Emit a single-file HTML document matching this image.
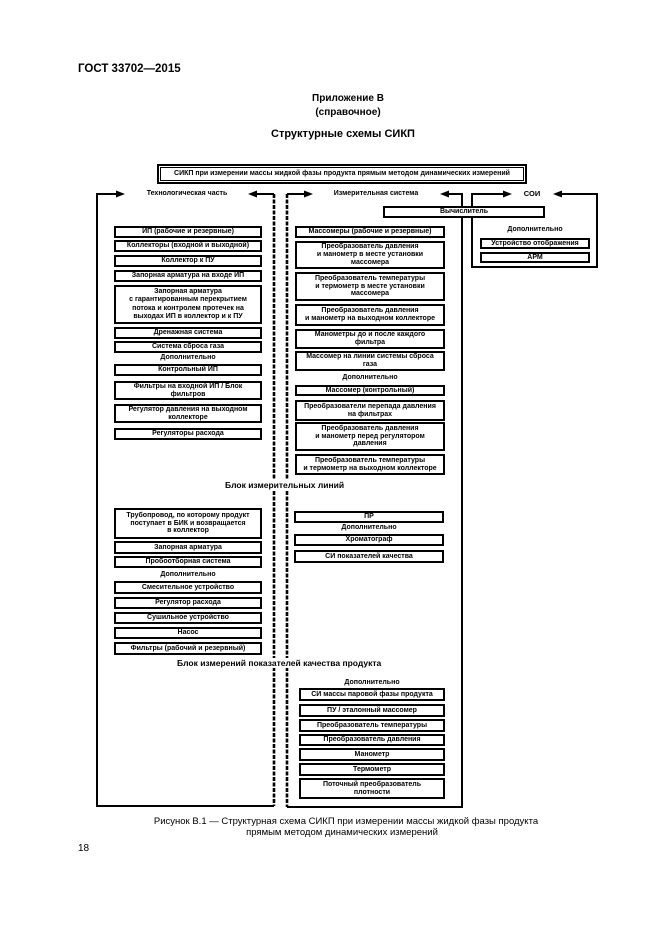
<!DOCTYPE html>
<html><head><meta charset="utf-8">
<style>
html,body{margin:0;padding:0;background:#fff;}
body{width:661px;height:935px;position:relative;overflow:hidden;font-family:"Liberation Sans",Arial,sans-serif;color:#000;}
.t{position:absolute;white-space:nowrap;}
.b{position:absolute;box-sizing:border-box;border:2px solid #000;background:#fff;display:flex;align-items:center;justify-content:center;text-align:center;font-weight:bold;font-size:7px;line-height:7.8px;white-space:nowrap;overflow:hidden;}
.l{position:absolute;font-weight:bold;font-size:7px;line-height:8px;text-align:center;white-space:nowrap;}
.sec{position:absolute;font-weight:bold;font-size:8.5px;line-height:10px;background:#fff;padding:0 1px;white-space:nowrap;}
svg{position:absolute;left:0;top:0;}
</style></head><body>

<div class="t" style="left:78px;top:63px;font-size:11.5px;font-weight:bold;">ГОСТ 33702—2015</div>
<div class="t" style="left:0;width:696px;text-align:center;top:93px;font-size:10px;font-weight:bold;">Приложение В</div>
<div class="t" style="left:0;width:696px;text-align:center;top:107px;font-size:10px;font-weight:bold;">(справочное)</div>
<div class="t" style="left:0;width:686px;text-align:center;top:128px;font-size:11px;font-weight:bold;">Структурные схемы СИКП</div>

<svg width="661" height="935" viewBox="0 0 661 935">
<g stroke="#000" stroke-width="2" fill="none">
  <path d="M118 194 H97 V806 H274"/>
  <path d="M255 194 H274"/>
  <path d="M274 194 V806" stroke-width="2.6" stroke-dasharray="4 1.5"/>
  <path d="M306 194 H287"/>
  <path d="M287 194 V807" stroke-width="2.6" stroke-dasharray="4 1.5"/>
  <path d="M287 807 H462 V194 H447"/>
  <path d="M505 194 H472 V267 H597 V194 H560"/>
</g>
<g fill="#000">
  <polygon points="125,194 116,190.5 116,197.5"/>
  <polygon points="248,194 257,190.5 257,197.5"/>
  <polygon points="313,194 304,190.5 304,197.5"/>
  <polygon points="440,194 449,190.5 449,197.5"/>
  <polygon points="512,194 503,190.5 503,197.5"/>
  <polygon points="553,194 562,190.5 562,197.5"/>
</g>
</svg>

<div class="b" style="left:157px;top:164px;width:370px;height:20px;border-width:2px;box-shadow:inset 0 0 0 1px #fff,inset 0 0 0 2px #000;">СИКП при измерении массы жидкой фазы продукта прямым методом динамических измерений</div>

<div class="l" style="left:130px;width:114px;top:190px;">Технологическая часть</div>
<div class="l" style="left:316px;width:120px;top:190px;">Измерительная система</div>
<div class="l" style="left:514px;width:36px;top:190px;font-size:7.5px;">СОИ</div>

<div class="b" style="left:383px;top:206px;width:162px;height:12px;">Вычислитель</div>

<div class="l" style="left:480px;width:110px;top:226px;">Дополнительно</div>
<div class="b" style="left:480px;top:238px;width:110px;height:11px;">Устройство отображения</div>
<div class="b" style="left:480px;top:252px;width:110px;height:11px;">АРМ</div>

<div class="b" style="left:114px;top:226px;width:148px;height:12px;">ИП (рабочие и резервные)</div>
<div class="b" style="left:114px;top:240px;width:148px;height:12px;">Коллекторы (входной и выходной)</div>
<div class="b" style="left:114px;top:255px;width:148px;height:12px;">Коллектор к ПУ</div>
<div class="b" style="left:114px;top:270px;width:148px;height:12px;">Запорная арматура на входе ИП</div>
<div class="b" style="left:114px;top:285px;width:148px;height:39px;line-height:8.5px;">Запорная арматура<br>с гарантированным перекрытием<br>потока и контролем протечек на<br>выходах ИП в коллектор и к ПУ</div>
<div class="b" style="left:114px;top:327px;width:148px;height:12px;">Дренажная система</div>
<div class="b" style="left:114px;top:341px;width:148px;height:12px;">Система сброса газа</div>
<div class="l" style="left:114px;width:148px;top:354px;">Дополнительно</div>
<div class="b" style="left:114px;top:364px;width:148px;height:12px;">Контрольный ИП</div>
<div class="b" style="left:114px;top:381px;width:148px;height:19px;">Фильтры на входной ИП / Блок<br>фильтров</div>
<div class="b" style="left:114px;top:404px;width:148px;height:19px;">Регулятор давления на выходном<br>коллекторе</div>
<div class="b" style="left:114px;top:428px;width:148px;height:12px;">Регуляторы расхода</div>

<div class="b" style="left:295px;top:226px;width:150px;height:12px;">Массомеры (рабочие и резервные)</div>
<div class="b" style="left:295px;top:241px;width:150px;height:28px;">Преобразователь давления<br>и манометр в месте установки<br>массомера</div>
<div class="b" style="left:295px;top:272px;width:150px;height:29px;">Преобразователь температуры<br>и термометр в месте установки<br>массомера</div>
<div class="b" style="left:295px;top:304px;width:150px;height:22px;">Преобразователь давления<br>и манометр на выходном коллекторе</div>
<div class="b" style="left:295px;top:329px;width:150px;height:20px;">Манометры до и после каждого<br>фильтра</div>
<div class="b" style="left:295px;top:351px;width:150px;height:20px;">Массомер на линии системы сброса<br>газа</div>
<div class="l" style="left:295px;width:150px;top:374px;">Дополнительно</div>
<div class="b" style="left:295px;top:385px;width:150px;height:11px;">Массомер (контрольный)</div>
<div class="b" style="left:295px;top:400px;width:150px;height:21px;">Преобразователи перепада давления<br>на фильтрах</div>
<div class="b" style="left:295px;top:422px;width:150px;height:29px;">Преобразователь давления<br>и манометр перед регулятором<br>давления</div>
<div class="b" style="left:295px;top:454px;width:150px;height:21px;">Преобразователь температуры<br>и термометр на выходном коллекторе</div>

<div class="sec" style="left:224px;top:480px;">Блок измерительных линий</div>

<div class="b" style="left:114px;top:508px;width:148px;height:31px;">Трубопровод, по которому продукт<br>поступает в БИК и возвращается<br>в коллектор</div>
<div class="b" style="left:114px;top:541px;width:148px;height:13px;">Запорная арматура</div>
<div class="b" style="left:114px;top:556px;width:148px;height:12px;">Пробоотборная система</div>
<div class="l" style="left:114px;width:148px;top:571px;">Дополнительно</div>
<div class="b" style="left:114px;top:581px;width:148px;height:13px;">Смесительное устройство</div>
<div class="b" style="left:114px;top:597px;width:148px;height:12px;">Регулятор расхода</div>
<div class="b" style="left:114px;top:612px;width:148px;height:12px;">Сушильное устройство</div>
<div class="b" style="left:114px;top:627px;width:148px;height:12px;">Насос</div>
<div class="b" style="left:114px;top:642px;width:148px;height:13px;">Фильтры (рабочий и резервный)</div>

<div class="b" style="left:294px;top:511px;width:150px;height:12px;">ПР</div>
<div class="l" style="left:294px;width:150px;top:524px;">Дополнительно</div>
<div class="b" style="left:294px;top:534px;width:150px;height:12px;">Хроматограф</div>
<div class="b" style="left:294px;top:550px;width:150px;height:13px;">СИ показателей качества</div>

<div class="sec" style="left:176px;top:658px;">Блок измерений показателей качества продукта</div>

<div class="l" style="left:299px;width:146px;top:679px;">Дополнительно</div>
<div class="b" style="left:299px;top:688px;width:146px;height:13px;">СИ массы паровой фазы продукта</div>
<div class="b" style="left:299px;top:704px;width:146px;height:13px;">ПУ / эталонный массомер</div>
<div class="b" style="left:299px;top:719px;width:146px;height:13px;">Преобразователь температуры</div>
<div class="b" style="left:299px;top:734px;width:146px;height:12px;">Преобразователь давления</div>
<div class="b" style="left:299px;top:748px;width:146px;height:13px;">Манометр</div>
<div class="b" style="left:299px;top:763px;width:146px;height:13px;">Термометр</div>
<div class="b" style="left:299px;top:778px;width:146px;height:21px;">Поточный преобразователь<br>плотности</div>

<div class="t" style="left:0;width:692px;text-align:center;top:816px;font-size:9.5px;">Рисунок В.1 — Структурная схема СИКП при измерении массы жидкой фазы продукта</div>
<div class="t" style="left:0;width:684px;text-align:center;top:827px;font-size:9.5px;">прямым методом динамических измерений</div>
<div class="t" style="left:78px;top:843px;font-size:10px;">18</div>

</body></html>
